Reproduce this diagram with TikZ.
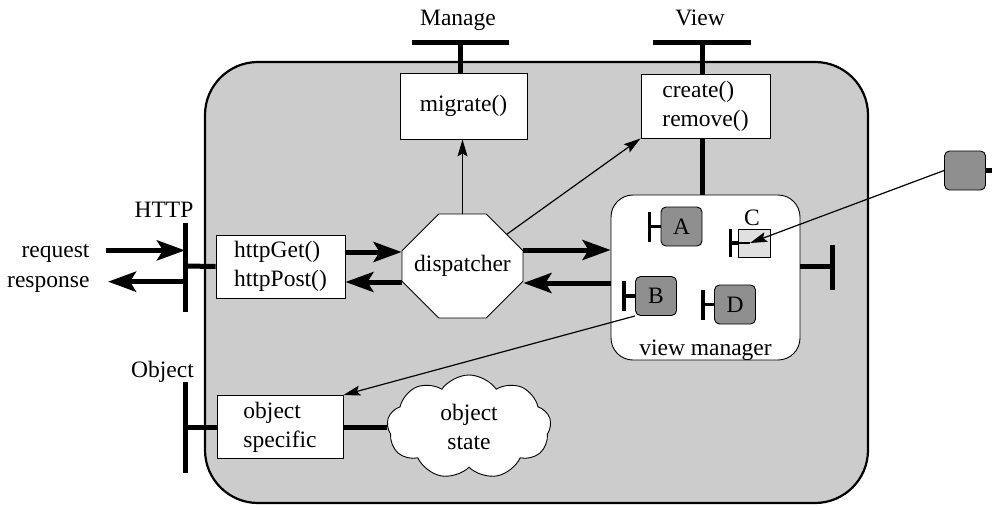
\documentclass[tikz,border=0pt]{standalone}
\usepackage{fontspec}
\setmainfont{Liberation Serif}
\usetikzlibrary{arrows.meta,shapes.misc,shapes.symbols}
\definecolor{hostgray}{gray}{0.8}
\definecolor{compgray}{gray}{0.56}
\definecolor{cgray}{gray}{0.88}

\tikzset{
  box/.style={draw, fill=white, line width=0.9pt, align=left, inner sep=0pt},
  comp/.style={draw, fill=compgray, rounded corners=5pt, line width=0.9pt,
    minimum width=41pt, minimum height=39pt, inner sep=0pt},
  port/.style={line width=5pt},
  minport/.style={line width=3.3pt},
  flow/.style={line width=5pt, -{Stealth[length=28pt,width=20pt,inset=6pt]}},
  call/.style={line width=1.2pt, -{Stealth[length=17pt,width=10pt,inset=3pt]}},
}

\begin{document}
\begin{tikzpicture}[x=1pt, y=-1pt, font=\fontsize{23.5}{29}\selectfont]
    \useasboundingbox (0,0) rectangle (992,506);

    % Host object
    \draw[fill=hostgray, line width=2.2pt, rounded corners=53pt] (205,62) rectangle (868,503);

    % Interface boxes
    \node[box, minimum width=127pt, minimum height=66pt] (migrate) at (463.5,106) {migrate()};
    \node[box, minimum width=129pt, minimum height=64pt] (create) at (705.5,106) {create()\\remove()};
    \node[box, minimum width=129pt, minimum height=63pt] (http) at (280.5,266.5) {httpGet()\\httpPost()};
    \node[box, minimum width=126pt, minimum height=63pt] (objspec) at (280,427) {object\\specific};

    % Dispatcher and state
    \node[draw, fill=white, line width=0.9pt, chamfered rectangle,
      chamfered rectangle xsep=26pt, chamfered rectangle ysep=26pt,
      minimum width=121pt, minimum height=104pt, inner sep=0pt] (dispatcher) at (462.5,266) {dispatcher};
    \node[cloud, draw, fill=white, line width=0.9pt, cloud puffs=9, cloud puff arc=110, aspect=1.6,
      minimum width=164pt, minimum height=104pt, inner sep=0pt, align=center] (state) at (469,427) {object\\state};

    % View manager
    \node[draw, fill=white, line width=0.9pt, rounded corners=22pt,
      minimum width=189pt, minimum height=165pt] (viewmgr) at (705.5,277.5) {};
    \node[anchor=base] (vmlabel) at (705.5,355) {view manager};

    % Components
    \node[comp] (A) at (681.5,226.5) {A};
    \node[comp] (B) at (656,296) {B};
    \node[comp] (D) at (735,304.5) {D};
    \node[draw, fill=cgray, line width=0.9pt, minimum width=32pt, minimum height=28pt, inner sep=0pt] (C) at (754,243) {};
    \node[anchor=base] (Clabel) at (752,225) {C};
    \node[comp] (ext) at (965,170.5) {};

    % Port labels
    \node[anchor=base] (manage) at (458,25) {Manage};
    \node[anchor=base] (view) at (700,25) {View};
    \node[anchor=base] (httplabel) at (164,217) {HTTP};
    \node[anchor=base] (objlabel) at (162.5,377) {Object};
    \node[anchor=base east] (req) at (93,257) {request};
    \node[anchor=base east] (resp) at (93,287) {response};

    % Ports
    \coordinate (httpport) at (185,266);
    \coordinate (objport) at (185,427);
    \coordinate (manageport) at (460,42);
    \coordinate (viewport) at (702,42);
    \coordinate (vmport) at (832,266);

    \draw[port] ([yshift=43pt]httpport) -- ([yshift=-46pt]httpport);
    \draw[port] (httpport) -- (http.west);
    \draw[port] ([yshift=45pt]objport) -- ([yshift=-46pt]objport);
    \draw[port] (objport) -- (objspec.west);
    \draw[port] (objspec.east) -- (objspec.east -| state.west);
    \draw[port] ([xshift=-48pt]manageport) -- ([xshift=49pt]manageport);
    \draw[port] (manageport) -- (manageport |- migrate.north);
    \draw[port] ([xshift=-49pt]viewport) -- ([xshift=49pt]viewport);
    \draw[port] (viewport) -- (viewport |- create.north);
    \draw[port] (viewport |- create.south) -- (viewport |- viewmgr.north);
    \draw[port] (viewmgr.east |- vmport) -- (vmport);
    \draw[port] ([yshift=21pt]vmport) -- ([yshift=-24pt]vmport);
    \draw[port] (ext.east) -- ++(8,0);

    % Component ports
    \foreach \c in {A,B,D} {
        \draw[minport] (\c.west) -- ++(-11,0) coordinate (\c port);
        \draw[minport] ([yshift=15pt]\c port) -- ([yshift=-15pt]\c port);
    }
    \coordinate (Cport) at ([xshift=-7pt]C.west);
    \draw[minport] ([yshift=14pt]Cport) -- ([yshift=-14pt]Cport);
    \draw[minport] (Cport) -- (C.west);
    \draw[line width=1.2pt] (C.west) -- ([xshift=-4pt]C.center);

    % Request and response
    \path ([xshift=13pt,yshift=2.5pt]req.east) coordinate (r1)
          ([xshift=15pt,yshift=2.3pt]resp.east) coordinate (r2);
    \draw[flow] (r1) -- (r1 -| httpport);
    \draw[flow] (r2 -| httpport) -- (r2);

    % Flows through the dispatcher
    \path ([yshift=14.5pt]http.east) coordinate (h1)
          ([yshift=-15.5pt]http.east) coordinate (h2)
          ([yshift=16pt]dispatcher.east) coordinate (d1)
          ([yshift=-17pt]dispatcher.east) coordinate (d2);
    \draw[flow] (h1) -- (h1 -| dispatcher.west);
    \draw[flow] (h2 -| dispatcher.west) -- (h2);
    \draw[flow] (d1) -- (d1 -| viewmgr.west);
    \draw[flow] (d2 -| viewmgr.west) -- (d2);

    % Calls
    \draw[call] (dispatcher.north) -- (dispatcher.north |- migrate.south);
    \draw[call] (dispatcher) -- (create.south west);
    \draw[call] (B.south west) -- (objspec.north east);
    \draw[call] (ext.west) -- ([xshift=-4pt]C.center);
\end{tikzpicture}
\end{document}
